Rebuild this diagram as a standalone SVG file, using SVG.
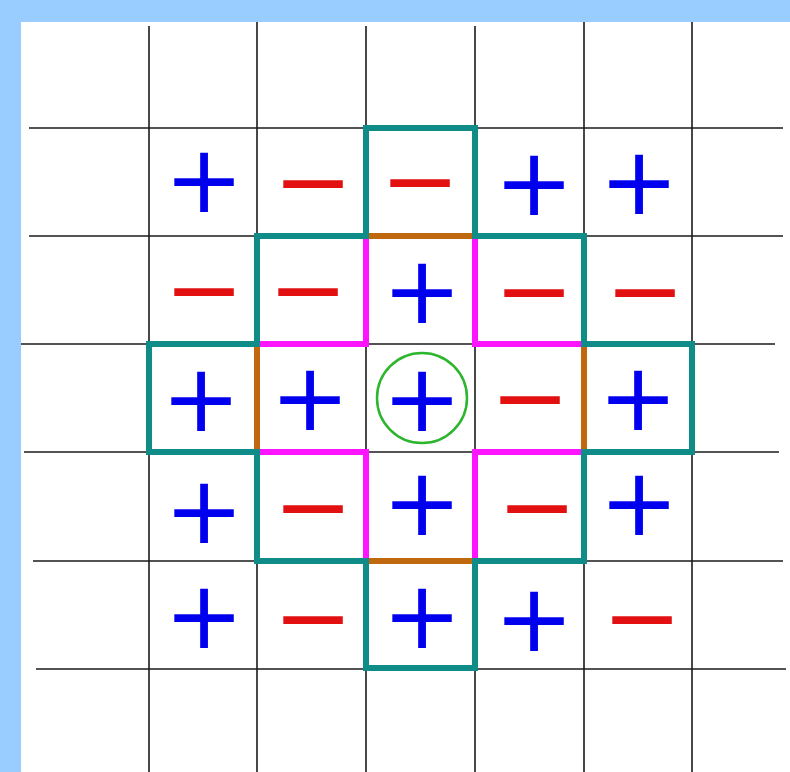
<svg xmlns="http://www.w3.org/2000/svg" width="790" height="772" viewBox="0 0 790 772">
<style>
.grid{stroke:#1a1a1a;stroke-width:1.6;fill:none}
.teal{stroke:#108C88;stroke-width:6;fill:none;stroke-linejoin:miter}
.brown{stroke:#C0680E;stroke-width:6;fill:none}
.mag{stroke:#FF14FF;stroke-width:6;fill:none;stroke-linejoin:miter}
.p{font-family:"DejaVu Sans",sans-serif;font-size:95px;fill:#0000EE;text-anchor:middle}
.m{font-family:"DejaVu Sans",sans-serif;font-size:95px;fill:#E21010;text-anchor:middle}
</style>
<rect x="0" y="0" width="790" height="772" fill="#99CCFF"/>
<rect x="21" y="22" width="769" height="750" fill="#FFFFFF"/>
<g id="grid">
<line class="grid" x1="149" y1="26" x2="149" y2="772"/>
<line class="grid" x1="257" y1="22" x2="257" y2="772"/>
<line class="grid" x1="366" y1="26" x2="366" y2="772"/>
<line class="grid" x1="475" y1="26" x2="475" y2="772"/>
<line class="grid" x1="584" y1="22" x2="584" y2="772"/>
<line class="grid" x1="692" y1="22" x2="692" y2="772"/>
<line class="grid" x1="29" y1="128" x2="783" y2="128"/>
<line class="grid" x1="29" y1="236" x2="783" y2="236"/>
<line class="grid" x1="21" y1="344" x2="775" y2="344"/>
<line class="grid" x1="24" y1="452" x2="779" y2="452"/>
<line class="grid" x1="33" y1="561" x2="783" y2="561"/>
<line class="grid" x1="36" y1="669" x2="786" y2="669"/>
</g>
<g id="connectors">
<path class="mag" d="M366,236 V344 H257 M475,236 V344 H584 M257,452 H366 V561 M584,452 H475 V561"/>
<path class="brown" d="M366,236 H475 M366,561 H475 M257,344 V452 M584,344 V452"/>
<path class="teal" d="M366,128 H475 V236 H584 V344 H692 V452 H584 V561 H475 V668 H366 V561 H257 V452 H149 V344 H257 V236 H366 Z"/>
</g>
<g id="center-circle">
<circle cx="422" cy="398" r="45" fill="none" stroke="#2DB52D" stroke-width="2.5"/>
</g>
<g id="row1">
<text class="p" x="204" y="212">+</text>
<text class="m" x="313" y="214">−</text>
<text class="m" x="420" y="213">−</text>
<text class="p" x="534" y="215">+</text>
<text class="p" x="639" y="214">+</text>
</g>
<g id="row2">
<text class="m" x="204" y="322">−</text>
<text class="m" x="308" y="322">−</text>
<text class="p" x="422" y="323">+</text>
<text class="m" x="534" y="323">−</text>
<text class="m" x="645" y="323">−</text>
</g>
<g id="row3">
<text class="p" x="201" y="431">+</text>
<text class="p" x="310" y="430">+</text>
<text class="p" x="422" y="431">+</text>
<text class="m" x="530" y="430">−</text>
<text class="p" x="638" y="430">+</text>
</g>
<g id="row4">
<text class="p" x="204" y="543">+</text>
<text class="m" x="313" y="539">−</text>
<text class="p" x="422" y="535">+</text>
<text class="m" x="537" y="539">−</text>
<text class="p" x="639" y="535">+</text>
</g>
<g id="row5">
<text class="p" x="204" y="648">+</text>
<text class="m" x="313" y="650">−</text>
<text class="p" x="422" y="648">+</text>
<text class="p" x="534" y="651">+</text>
<text class="m" x="642" y="650">−</text>
</g>
</svg>
